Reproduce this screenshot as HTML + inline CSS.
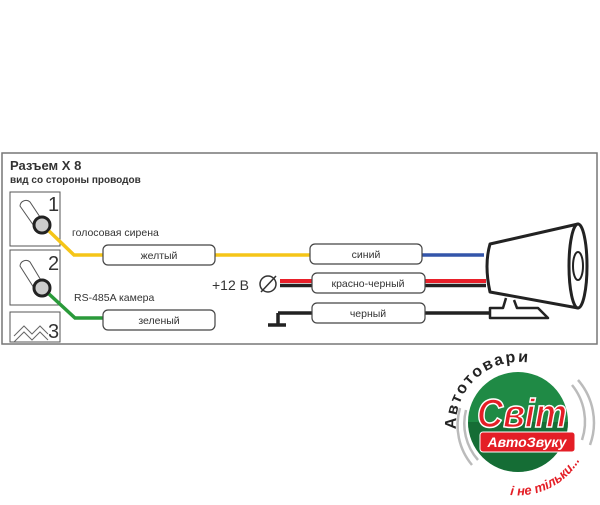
<!DOCTYPE html>
<html><head><meta charset="utf-8"><style>
body{margin:0;background:#fff;width:600px;height:500px;overflow:hidden}
text{font-family:"Liberation Sans",sans-serif}
</style></head><body>
<svg width="600" height="500" viewBox="0 0 600 500" xmlns="http://www.w3.org/2000/svg">
<rect x="2" y="153" width="595" height="191" fill="#fff" stroke="#777" stroke-width="1.5"/>
<text x="10" y="170" font-size="13" font-weight="bold" fill="#333">Разъем  X 8</text>
<text x="10" y="183" font-size="10" font-weight="bold" fill="#333">вид со стороны проводов</text>
<g stroke="#555" stroke-width="1" fill="#fff">
<rect x="10" y="192" width="50" height="54"/>
<rect x="10" y="250" width="50" height="55"/>
<path d="M10 312 H60 V342 H10 Z"/>
</g>
<g font-size="20" fill="#333"><text x="48" y="211">1</text><text x="48" y="270">2</text><text x="48" y="338">3</text></g>
<path d="M14 336 L24 326 L32 334 L40 326 L48 334 M14 342 L24 332 L32 340 L40 332 L48 340" stroke="#666" fill="none" stroke-width="1"/>
<g stroke="#555" fill="#fff" stroke-width="1">
<path d="M20 206 a6 6 0 0 1 10 -4 L42 220 L34 226 Z"/>
<path d="M20 266 a6 6 0 0 1 10 -4 L42 282 L34 288 Z"/>
</g>
<circle cx="42" cy="225" r="8" fill="#ccc" stroke="#222" stroke-width="3"/>
<circle cx="42" cy="288" r="8" fill="#ccc" stroke="#222" stroke-width="3"/>
<path d="M49 231 L74 255 H310" stroke="#f5c518" stroke-width="3.5" fill="none"/>
<path d="M422 255 H484" stroke="#3355aa" stroke-width="3.5"/>
<path d="M49 294 L75 318 H104" stroke="#2a9a3a" stroke-width="3.5" fill="none"/>
<path d="M280 281 H486" stroke="#e8202a" stroke-width="4"/>
<path d="M280 285.5 H486" stroke="#222" stroke-width="3.5"/>
<path d="M278 313 H490 M278 313 V325 M268 325 H286" stroke="#222" stroke-width="3.5" fill="none"/>
<text x="72" y="236" font-size="10.5" fill="#333">голосовая сирена</text>
<text x="74" y="301" font-size="10.5" fill="#333">RS-485A камера</text>
<text x="212" y="290" font-size="14" fill="#333">+12 В</text>
<circle cx="268" cy="284" r="8" fill="#fff" stroke="#333" stroke-width="1.5"/>
<line x1="261" y1="292" x2="276" y2="276" stroke="#333" stroke-width="1.5"/>
<g fill="#fff" stroke="#444" stroke-width="1.2">
<rect x="103" y="245" width="112" height="20" rx="5"/>
<rect x="103" y="310" width="112" height="20" rx="5"/>
<rect x="310" y="244" width="112" height="20" rx="5"/>
<rect x="312" y="273" width="113" height="20" rx="5"/>
<rect x="312" y="303" width="113" height="20" rx="5"/>
</g>
<g font-size="10.5" fill="#333" text-anchor="middle">
<text x="159" y="259">желтый</text><text x="159" y="324">зеленый</text>
<text x="366" y="258">синий</text><text x="368" y="287">красно-черный</text><text x="368" y="317">черный</text>
</g>
<g stroke="#222" stroke-width="3" fill="#fff" stroke-linejoin="round">
<path d="M490 244 Q484 265 490 292 L578 308 L578 224 Z"/>
<ellipse cx="578" cy="266" rx="9" ry="42"/>
<path d="M506 298 L503 308 L490 308 L490 318 L548 318 L538 308 L517 308 L514 300" stroke-width="2.5"/>
</g>
<ellipse cx="578" cy="266" rx="5" ry="14" fill="none" stroke="#222" stroke-width="2"/>
<g fill="none" stroke="#bbb" stroke-width="2.5">
<path d="M466 410 A55 55 0 0 0 478 460"/><path d="M460 408 A62 62 0 0 0 472 465"/>
<path d="M572 385 A58 58 0 0 1 582 440"/><path d="M578 380 A65 65 0 0 1 590 445"/>
</g>
<circle cx="518" cy="422" r="50" fill="#1f8a45"/>
<path d="M468 422 A50 50 0 0 0 568 422 Z" fill="#0f5a2c" opacity="0.6"/>
<text x="522" y="427" font-size="40" font-weight="bold" font-style="italic" fill="#e41e26" stroke="#fff" stroke-width="1.5" text-anchor="middle" textLength="90" lengthAdjust="spacingAndGlyphs">Світ</text>
<rect x="480" y="432" width="95" height="20" rx="3" fill="#e41e26" stroke="#fff"/>
<text x="527" y="447" font-size="14" font-weight="bold" font-style="italic" fill="#fff" text-anchor="middle">АвтоЗвуку</text>
<defs>
<path id="top" d="M458 441 A62 62 0 0 1 580 409"/>
<path id="bot" d="M510 495 A72 72 0 0 0 588 440"/>
</defs>
<text font-size="16" font-weight="bold" fill="#222" letter-spacing="2"><textPath href="#top" startOffset="12">Автотовари</textPath></text>
<text font-size="13" font-weight="bold" font-style="italic" fill="#e41e26"><textPath href="#bot">і не тільки...</textPath></text>
</svg>
</body></html>
